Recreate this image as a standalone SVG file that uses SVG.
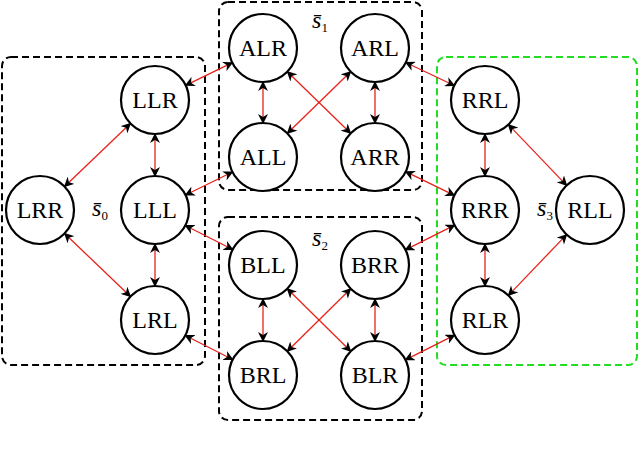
<svg xmlns="http://www.w3.org/2000/svg" width="640" height="454" viewBox="0 0 640 454">
<style>
.n circle{fill:#fff;stroke:#000;stroke-width:2.2}
.n text,.lab{font-family:"Liberation Serif",serif;font-size:24px;text-anchor:middle;fill:#000}
.box{fill:none;stroke:#000;stroke-width:2;stroke-dasharray:7,4}
#c line{stroke:#e8221b;stroke-width:1.3;marker-start:url(#a);marker-end:url(#a)}
</style>
<defs><marker id="a" viewBox="0 0 10 10" refX="9" refY="5" markerWidth="10" markerHeight="10" markerUnits="userSpaceOnUse" orient="auto-start-reverse"><path d="M0,0 L10,5 L0,10 L3,5Z" fill="#000"/></marker></defs>
<rect class="box" x="2" y="57" width="203" height="308" rx="9"/>
<rect class="box" x="219" y="2" width="203" height="188" rx="9"/>
<rect class="box" x="219" y="217" width="203" height="203" rx="9"/>
<rect class="box" x="437" y="57" width="200" height="308" rx="9" style="stroke:#22dd22"/>
<text class="lab" x="100" y="216" font-size="19" font-style="italic">s̄<tspan font-size="13" dy="4" font-style="normal">0</tspan></text>
<text class="lab" x="320" y="28" font-size="19" font-style="italic">s̄<tspan font-size="13" dy="4" font-style="normal">1</tspan></text>
<text class="lab" x="320" y="246" font-size="19" font-style="italic">s̄<tspan font-size="13" dy="4" font-style="normal">2</tspan></text>
<text class="lab" x="545" y="216" font-size="19" font-style="italic">s̄<tspan font-size="13" dy="4" font-style="normal">3</tspan></text>
<g id="c">
<line x1="130.4" y1="123.5" x2="64.6" y2="186.5"/>
<line x1="130.4" y1="296.5" x2="64.6" y2="233.5"/>
<line x1="155" y1="134" x2="155" y2="176"/>
<line x1="155" y1="244" x2="155" y2="286"/>
<line x1="185.6" y1="85.3" x2="232.4" y2="62.7"/>
<line x1="185.5" y1="195" x2="232.5" y2="172"/>
<line x1="185.3" y1="225.5" x2="232.7" y2="249.5"/>
<line x1="185.3" y1="335.5" x2="232.7" y2="359.5"/>
<line x1="263" y1="82" x2="263" y2="123"/>
<line x1="375" y1="82" x2="375" y2="123"/>
<line x1="287.4" y1="71.7" x2="350.6" y2="133.3"/>
<line x1="350.6" y1="71.7" x2="287.4" y2="133.3"/>
<line x1="263" y1="299" x2="263" y2="341"/>
<line x1="375" y1="299" x2="375" y2="341"/>
<line x1="287.3" y1="288.8" x2="350.7" y2="351.2"/>
<line x1="350.7" y1="288.8" x2="287.3" y2="351.2"/>
<line x1="405.7" y1="62.5" x2="454.3" y2="85.5"/>
<line x1="405.6" y1="171.7" x2="454.4" y2="195.3"/>
<line x1="405.4" y1="249.8" x2="454.6" y2="225.2"/>
<line x1="405.4" y1="359.8" x2="454.6" y2="335.2"/>
<line x1="485" y1="134" x2="485" y2="176"/>
<line x1="485" y1="244" x2="485" y2="286"/>
<line x1="508.4" y1="124.6" x2="566.6" y2="185.4"/>
<line x1="508.4" y1="295.4" x2="566.6" y2="234.6"/>
</g>
<g id="LRR" class="n"><circle cx="40" cy="210" r="34"/><text x="40" y="218">LRR</text></g>
<g id="LLR" class="n"><circle cx="155" cy="100" r="34"/><text x="155" y="108">LLR</text></g>
<g id="LLL" class="n"><circle cx="155" cy="210" r="34"/><text x="155" y="218">LLL</text></g>
<g id="LRL" class="n"><circle cx="155" cy="320" r="34"/><text x="155" y="328">LRL</text></g>
<g id="ALR" class="n"><circle cx="263" cy="48" r="34"/><text x="263" y="56">ALR</text></g>
<g id="ARL" class="n"><circle cx="375" cy="48" r="34"/><text x="375" y="56">ARL</text></g>
<g id="ALL" class="n"><circle cx="263" cy="157" r="34"/><text x="263" y="165">ALL</text></g>
<g id="ARR" class="n"><circle cx="375" cy="157" r="34"/><text x="375" y="165">ARR</text></g>
<g id="BLL" class="n"><circle cx="263" cy="265" r="34"/><text x="263" y="273">BLL</text></g>
<g id="BRR" class="n"><circle cx="375" cy="265" r="34"/><text x="375" y="273">BRR</text></g>
<g id="BRL" class="n"><circle cx="263" cy="375" r="34"/><text x="263" y="383">BRL</text></g>
<g id="BLR" class="n"><circle cx="375" cy="375" r="34"/><text x="375" y="383">BLR</text></g>
<g id="RRL" class="n"><circle cx="485" cy="100" r="34"/><text x="485" y="108">RRL</text></g>
<g id="RRR" class="n"><circle cx="485" cy="210" r="34"/><text x="485" y="218">RRR</text></g>
<g id="RLR" class="n"><circle cx="485" cy="320" r="34"/><text x="485" y="328">RLR</text></g>
<g id="RLL" class="n"><circle cx="590" cy="210" r="34"/><text x="590" y="218">RLL</text></g>
</svg>
